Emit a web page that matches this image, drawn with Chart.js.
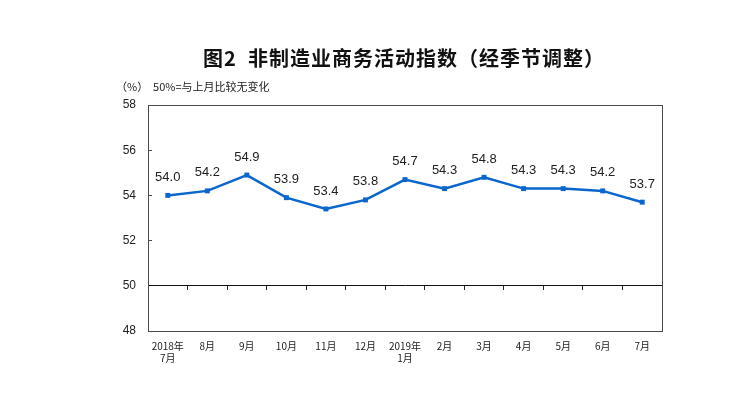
<!DOCTYPE html>
<html>
<head>
<meta charset="utf-8">
<script src="https://cdn.jsdelivr.net/npm/chart.js@4/dist/chart.umd.min.js"></script>
<style>
    body { margin: 0; background: #fff; }
    #wrap { position: relative; width: 743px; height: 396px; }
    #chart { position: absolute; left: 0; top: 0; }
    .title { position: absolute; left: 203px; top: 43px; font: bold 20px "Noto Sans CJK SC", sans-serif; letter-spacing: 1px; color: #111; white-space: pre; }
    .unit { position: absolute; left: 116px; top: 78px; font: 11px "Noto Sans CJK SC", sans-serif; color: #222; white-space: pre; }
</style>
</head>
<body>
<div id="wrap">
    <canvas id="chart" width="743" height="396"></canvas>
    <div class="title">图2  非制造业商务活动指数（经季节调整）</div>
    <div class="unit">（%）  50%=与上月比较无变化</div>
</div>
<script>
// 月份标签
const months = [
    ['2018年', '7月'], '8月', '9月', '10月', '11月', '12月',
    ['2019年', '1月'], '2月', '3月', '4月', '5月', '6月', '7月'
];
// 非制造业商务活动指数
const indexValues = [54.0, 54.2, 54.9, 53.9, 53.4, 53.8, 54.7, 54.3, 54.8, 54.3, 54.3, 54.2, 53.7];
// 纵轴刻度
const yTicks = [48, 50, 52, 54, 56, 58];
const baseline = 50;

// 图表外框
const framePlugin = {
    id: 'frame',
    afterDraw(chart) {
        const { ctx, chartArea } = chart;
        ctx.save();
        ctx.strokeStyle = '#4a4a4a';
        ctx.lineWidth = 1;
        ctx.strokeRect(Math.round(chartArea.left) + 0.5, Math.round(chartArea.top) + 0.5,
            Math.round(chartArea.right - chartArea.left), Math.round(chartArea.bottom - chartArea.top));
        ctx.restore();
    }
};

// 数据标签
const valueLabels = {
    id: 'valueLabels',
    afterDatasetsDraw(chart) {
        const { ctx } = chart;
        const meta = chart.getDatasetMeta(0);
        ctx.save();
        ctx.font = '13px "Liberation Sans", Arial, sans-serif';
        ctx.fillStyle = '#222';
        ctx.textAlign = 'center';
        ctx.textBaseline = 'middle';
        meta.data.forEach((pt, i) => {
            ctx.fillText(indexValues[i].toFixed(1), pt.x, pt.y - 18);
        });
        ctx.restore();
    }
};

new Chart(document.getElementById('chart'), {
    type: 'line',
    data: {
        labels: months,
        datasets: [{
            data: indexValues,
            borderColor: '#0a66cc',
            backgroundColor: '#0a66cc',
            borderWidth: 2.5,
            tension: 0,
            pointStyle: 'rect',
            pointRadius: 3.5,
            pointBorderWidth: 0,
            pointBackgroundColor: '#0a66cc'
        }]
    },
    options: {
        responsive: false,
        animation: false,
        devicePixelRatio: 1,
        layout: { padding: { left: 108, top: 105, right: 81, bottom: 25 } },
        plugins: {
            legend: { display: false },
            tooltip: { enabled: false }
        },
        scales: {
            x: {
                position: 'bottom',
                offset: true,
                grid: { drawOnChartArea: false, drawTicks: false },
                border: { display: true, color: '#4a4a4a' },
                ticks: {
                    autoSkip: false,
                    maxRotation: 0,
                    padding: 9,
                    color: '#222',
                    font: { size: 10, family: '"Noto Sans CJK SC", sans-serif' }
                },
                afterFit(scale) { scale.height = 40; }
            },
            mid: {
                type: 'category',
                axis: 'x',
                position: { y: baseline },
                offset: true,
                grid: { drawOnChartArea: false, drawTicks: true, tickLength: 4, color: '#222', offset: true },
                border: { display: true, color: '#111', width: 1 },
                ticks: { display: false }
            },
            y: {
                min: 48,
                max: 58,
                afterBuildTicks(scale) { scale.ticks = yTicks.map(v => ({ value: v })); },
                grid: { drawOnChartArea: false, drawTicks: true, tickLength: -4, color: '#4a4a4a' },
                border: { display: true, color: '#4a4a4a' },
                ticks: {
                    padding: 16,
                    color: '#222',
                    font: { size: 12, family: '"Liberation Sans", Arial, sans-serif' }
                },
                afterFit(scale) { scale.width = 40; }
            }
        }
    },
    plugins: [framePlugin, valueLabels]
});
</script>
</body>
</html>
